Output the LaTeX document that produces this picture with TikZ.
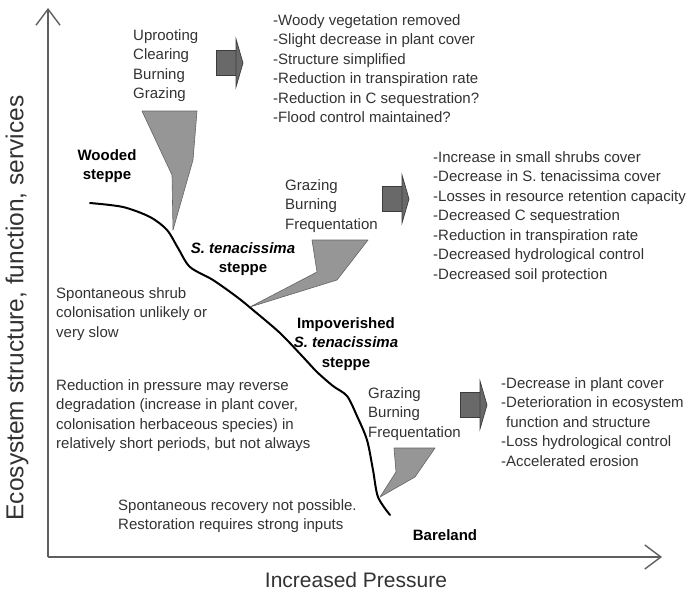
\documentclass[tikz,border=0pt]{standalone}
\usepackage{fontspec}
\setmainfont{Liberation Sans}
\usetikzlibrary{arrows.meta,positioning}
\definecolor{txtgray}{RGB}{50,50,50}
\definecolor{wedgegray}{RGB}{150,150,150}
\definecolor{wedgeedge}{RGB}{100,100,100}
\definecolor{arrgray}{RGB}{105,105,105}
\definecolor{arredge}{RGB}{60,60,60}
\definecolor{axisgray}{RGB}{95,95,95}
\tikzset{
  mytext/.style = {font=\fontsize{15}{19.5}\selectfont, text=txtgray, align=left, inner sep=0pt, anchor=base west},
  mystage/.style = {font=\fontsize{15}{19.5}\selectfont\bfseries, align=center, inner sep=0pt, anchor=base},
  mywedge/.style = {fill=wedgegray, draw=wedgeedge, line width=0.6pt, line join=round},
  myaxis/.style = {draw=axisgray, line width=1.4pt, -{Straight Barb[length=16pt,width=24pt,line width=1.4pt]}},
  mycurve/.style = {line width=2pt, line cap=round},
  pusharrow/.pic = {
    \filldraw[fill=arrgray, draw=arredge, line width=0.7pt] (-20,-12.5) rectangle (0,12.5);
    \filldraw[fill=arrgray, draw=arredge, line width=0.7pt] (0,-24) -- (7,0) -- (0,24) -- cycle;
  },
}

\begin{document}
\begin{tikzpicture}[x=1pt, y=-1pt]
\useasboundingbox (0,0) rectangle (698,594);
\coordinate (o) at (48,557);
\coordinate (ytop) at (48,8);
\coordinate (xend) at (662,557);
\draw[myaxis] (o) -- (ytop);
\draw[myaxis] (o) -- (xend);
\node[rotate=90, font=\fontsize{24.5}{28}\selectfont, text=txtgray] (ylab) at (17,308) {Ecosystem structure, function, services};
\node[font=\fontsize{21}{25}\selectfont, text=txtgray] (xlab) at (356,580) {Increased Pressure};

\draw[mycurve] plot[smooth, tension=0.5] coordinates {(90,203) (123,207) (150,217) (167,230) (178,248) (190,267) (213,280) (237,297) (253,310) (280,333) (303,357) (317,372) (333,386) (347,396) (357,416) (367,440) (373,470) (378,497) (390,515)};

\fill[mywedge] (142,111) -- (197,111) -- (193,160) -- (173,230) -- (172,175) -- cycle;
\fill[mywedge] (312,240) -- (368,240) -- (337,280) -- (250,307) -- (317,272) -- cycle;
\fill[mywedge] (394,448) -- (435,448) -- (415,477) -- (380,497) -- (396,472) -- cycle;

\pic (ar1) at (236,63) {pusharrow};
\pic (ar2) at (402,199) {pusharrow};
\pic (ar3) at (480,405) {pusharrow};

\node[mytext] (p1) at (133,98.5) {Uprooting\\Clearing\\Burning\\Grazing};
\node[mytext] (p2) at (285,229) {Grazing\\Burning\\Frequentation};
\node[mytext] (p3) at (368,437) {Grazing\\Burning\\Frequentation};

\node[mytext] (e1) at (273,122.5) {-Woody vegetation removed\\-Slight decrease in plant cover\\-Structure simplified\\-Reduction in transpiration rate\\-Reduction in C sequestration?\\-Flood control maintained?};
\node[mytext] (e2) at (433,279) {-Increase in small shrubs cover\\-Decrease in S. tenacissima cover\\-Losses in resource retention capacity\\-Decreased C sequestration\\-Reduction in transpiration rate\\-Decreased hydrological control\\-Decreased soil protection};
\node[mytext] (e3) at (501,466) {-Decrease in plant cover\\-Deterioration in ecosystem\\\phantom{-}function and structure\\-Loss hydrological control\\-Accelerated erosion};

\node[mystage] (wooded) at (107,179.5) {Wooded\\steppe};
\node[mystage] (tena) at (243,272.5) {\textit{S. tenacissima}\\steppe};
\node[mystage] (impov) at (346,367) {Impoverished\\\textit{S. tenacissima}\\steppe};
\node[mystage] (bare) at (445,540) {Bareland};

\node[mytext] (n1) at (56,337) {Spontaneous shrub\\colonisation unlikely or\\very slow};
\node[mytext] (n2) at (56,448.5) {Reduction in pressure may reverse\\degradation (increase in plant cover,\\colonisation herbaceous species) in\\relatively short periods, but not always};
\node[mytext] (n3) at (118,529.5) {Spontaneous recovery not possible.\\Restoration requires strong inputs};
\end{tikzpicture}
\end{document}
